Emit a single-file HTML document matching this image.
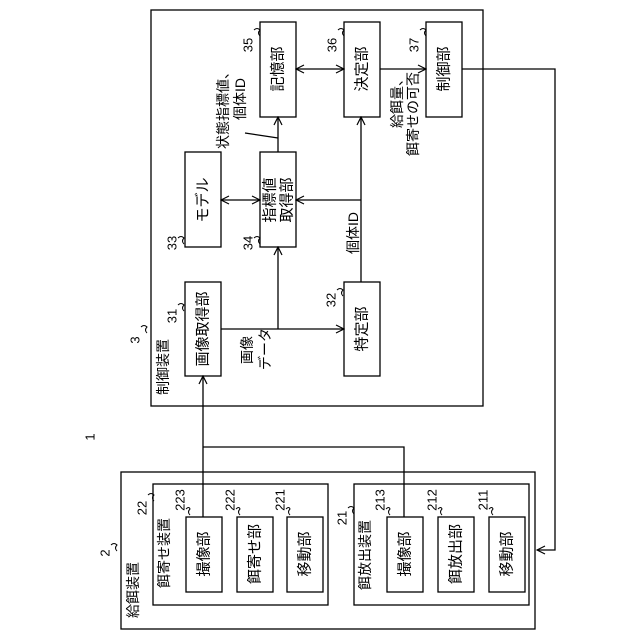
<!DOCTYPE html>
<html><head><meta charset="utf-8"><style>html,body{margin:0;padding:0;background:#fff}svg{display:block}</style></head>
<body>
<svg width="640" height="640" viewBox="0 0 640 640" xmlns="http://www.w3.org/2000/svg" font-family="Liberation Sans, Noto Sans CJK JP, sans-serif" fill="none" stroke="#000" stroke-width="1.3">
<defs><marker id="a" markerWidth="10" markerHeight="10" refX="9" refY="5" orient="auto" markerUnits="userSpaceOnUse"><path d="M1,1 L9,5 L1,9" fill="none" stroke="#000" stroke-width="1.2"/></marker>
<marker id="s" markerWidth="10" markerHeight="10" refX="1" refY="5" orient="auto" markerUnits="userSpaceOnUse"><path d="M9,1 L1,5 L9,9" fill="none" stroke="#000" stroke-width="1.2"/></marker></defs>
<!-- control device -->
<rect x="151" y="10" width="332" height="396"/>
<rect x="260" y="22" width="36" height="95"/>
<rect x="344" y="22" width="36" height="95"/>
<rect x="426" y="22" width="36" height="95"/>
<rect x="185" y="152" width="36" height="95"/>
<rect x="260" y="152" width="36" height="95"/>
<rect x="185" y="282" width="36" height="94"/>
<rect x="344" y="282" width="36" height="94"/>
<line x1="296" y1="69" x2="344" y2="69" marker-start="url(#s)" marker-end="url(#a)"/>
<line x1="380" y1="69" x2="426" y2="69" marker-end="url(#a)"/>
<line x1="221" y1="200" x2="260" y2="200" marker-start="url(#s)" marker-end="url(#a)"/>
<line x1="278" y1="152" x2="278" y2="117" marker-end="url(#a)"/>
<line x1="245" y1="133" x2="278" y2="138"/>
<line x1="361" y1="282" x2="361" y2="117" marker-end="url(#a)"/>
<line x1="361" y1="200" x2="296" y2="200" marker-end="url(#a)"/>
<line x1="221" y1="329" x2="344" y2="329" marker-end="url(#a)"/>
<line x1="278" y1="329" x2="278" y2="247" marker-end="url(#a)"/>
<polyline points="462,69 555,69 555,550 537,550" marker-end="url(#a)"/>
<polyline points="404,517 404,447 203,447"/>
<line x1="203" y1="517" x2="203" y2="376" marker-end="url(#a)"/>
<!-- feed device -->
<rect x="121" y="472" width="414" height="157"/>
<rect x="153" y="484" width="175" height="121"/>
<rect x="354" y="484" width="175" height="121"/>
<rect x="186" y="517" width="36" height="75"/>
<rect x="237" y="517" width="36" height="75"/>
<rect x="287" y="517" width="36" height="75"/>
<rect x="387" y="517" width="36" height="75"/>
<rect x="438" y="517" width="36" height="75"/>
<rect x="489" y="517" width="36" height="75"/>
<g fill="#000" stroke="none" font-size="15" text-anchor="middle" dominant-baseline="central">
<text transform="translate(278,69) rotate(-90)">記憶部</text>
<text transform="translate(362,69) rotate(-90)">決定部</text>
<text transform="translate(444,69) rotate(-90)">制御部</text>
<text transform="translate(203,200) rotate(-90)">モデル</text>
<text transform="translate(270,200) rotate(-90)">指標値</text>
<text transform="translate(287,200) rotate(-90)">取得部</text>
<text transform="translate(203,329) rotate(-90)">画像取得部</text>
<text transform="translate(362,329) rotate(-90)">特定部</text>
<text transform="translate(204,554) rotate(-90)">撮像部</text>
<text transform="translate(255,554) rotate(-90)">餌寄せ部</text>
<text transform="translate(305,554) rotate(-90)">移動部</text>
<text transform="translate(405,554) rotate(-90)">撮像部</text>
<text transform="translate(456,554) rotate(-90)">餌放出部</text>
<text transform="translate(507,554) rotate(-90)">移動部</text>
</g>
<g fill="#000" stroke="none" font-size="14" dominant-baseline="central">
<text text-anchor="end" transform="translate(223,65) rotate(-90)">状態指標値、</text>
<text text-anchor="end" transform="translate(240,78) rotate(-90)">個体ID</text>
<text text-anchor="end" transform="translate(397,72) rotate(-90)">給餌量、</text>
<text text-anchor="end" transform="translate(413,72) rotate(-90)">餌寄せの可否</text>
<text text-anchor="middle" transform="translate(353,233) rotate(-90)">個体ID</text>
<text text-anchor="middle" transform="translate(247,350) rotate(-90)">画像</text>
<text text-anchor="middle" transform="translate(265,349) rotate(-90)">データ</text>
<text text-anchor="middle" transform="translate(163,367) rotate(-90)">制御装置</text>
<text text-anchor="middle" transform="translate(133,590) rotate(-90)">給餌装置</text>
<text text-anchor="middle" transform="translate(164,553) rotate(-90)">餌寄せ装置</text>
<text text-anchor="middle" transform="translate(365,555) rotate(-90)">餌放出装置</text>
</g>
<g fill="#000" stroke="none" font-size="13" text-anchor="middle" dominant-baseline="central">
<text transform="translate(248,45) rotate(-90)">35</text>
<text transform="translate(332,45) rotate(-90)">36</text>
<text transform="translate(414,45) rotate(-90)">37</text>
<text transform="translate(172,243) rotate(-90)">33</text>
<text transform="translate(248,243) rotate(-90)">34</text>
<text transform="translate(172,316) rotate(-90)">31</text>
<text transform="translate(331,300) rotate(-90)">32</text>
<text transform="translate(135,340) rotate(-90)">3</text>
<text transform="translate(90,437) rotate(-90)">1</text>
<text transform="translate(105,553) rotate(-90)">2</text>
<text transform="translate(142,508) rotate(-90)">22</text>
<text transform="translate(342,518) rotate(-90)">21</text>
<text transform="translate(180,500) rotate(-90)">223</text>
<text transform="translate(230,500) rotate(-90)">222</text>
<text transform="translate(280,500) rotate(-90)">221</text>
<text transform="translate(380,500) rotate(-90)">213</text>
<text transform="translate(432,500) rotate(-90)">212</text>
<text transform="translate(483,500) rotate(-90)">211</text>
</g>
<g stroke-width="1">
<path d="M254,30 q3,-3 6,0 q-3,3 0,6"/>
<path d="M338,30 q3,-3 6,0 q-3,3 0,6"/>
<path d="M420,30 q3,-3 6,0 q-3,3 0,6"/>
<path d="M178,238 q3,-3 6,0 q-3,3 0,6"/>
<path d="M254,238 q3,-3 6,0 q-3,3 0,6"/>
<path d="M178,305 q3,-3 6,0 q-3,3 0,6"/>
<path d="M337,290 q3,-3 6,0 q-3,3 0,6"/>
<path d="M141,327 q3,-3 6,0 q-3,3 0,6"/>
<path d="M111,545 q3,-3 6,0 q-3,3 0,6"/>
<path d="M148,495 q3,-3 6,0 q-3,3 0,6"/>
<path d="M348,508 q3,-3 6,0 q-3,3 0,6"/>
<path d="M186,509 q3,-3 4,0 q-3,3 0,6"/>
<path d="M236,509 q3,-3 4,0 q-3,3 0,6"/>
<path d="M286,509 q3,-3 4,0 q-3,3 0,6"/>
<path d="M386,509 q3,-3 4,0 q-3,3 0,6"/>
<path d="M438,509 q3,-3 4,0 q-3,3 0,6"/>
<path d="M489,509 q3,-3 4,0 q-3,3 0,6"/>
</g>
</svg>
</body></html>
